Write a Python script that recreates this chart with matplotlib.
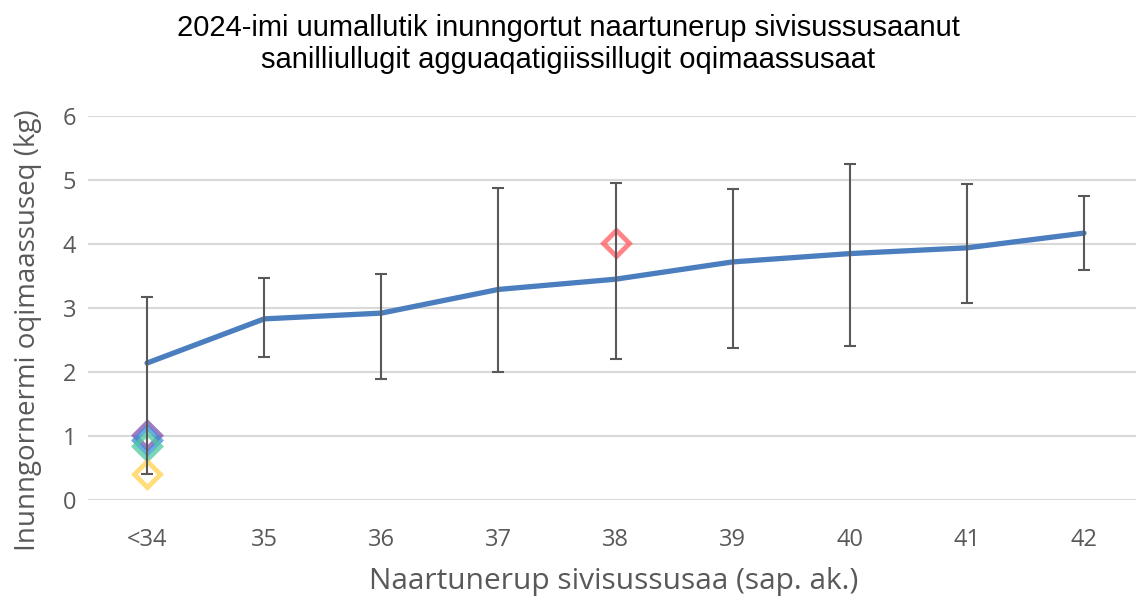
import matplotlib
matplotlib.use("Agg")
import matplotlib.pyplot as plt
import numpy as np

# gestational age categories
categories = ["<34", "35", "36", "37", "38", "39", "40", "41", "42"]
mean_weight = [2.14, 2.83, 2.92, 3.29, 3.45, 3.72, 3.85, 3.94, 4.17]
err_high = [3.17, 3.47, 3.53, 4.87, 4.95, 4.86, 5.25, 4.94, 4.75]
err_low = [0.40, 2.24, 1.89, 2.00, 2.20, 2.37, 2.41, 3.08, 3.59]

# single observations drawn as hollow diamonds
point_cat = ["<34", "<34", "<34", "<34", "38"]
point_val = [1.02, 0.93, 0.85, 0.40, 4.02]
point_col = ["#7E4FB0", "#3A8FD6", "#4CC9A0", "#FFD24D", "#FF5A5F"]

title = "2024-imi uumallutik inunngortut naartunerup sivisussusaanut\nsanilliullugit agguaqatigiissillugit oqimaassusaat"
xlabel = "Naartunerup sivisussusaa (sap. ak.)"
ylabel = "Inunngornermi oqimaassuseq (kg)"

grey = "#595959"
body_font = ["Open Sans", "DejaVu Sans"]
fig = plt.figure(figsize=(11.36, 5.99), dpi=100)
ax = fig.add_axes([88.5 / 1136, 1 - 500 / 599, (1142.5 - 88.5) / 1136, 384 / 599])

x = np.arange(len(categories))
mean_weight = np.array(mean_weight)
yerr = [mean_weight - np.array(err_low), np.array(err_high) - mean_weight]

ax.plot(x, mean_weight, color="#4A7EBE", lw=3.8, solid_capstyle="round", zorder=3)

px = [categories.index(c) for c in point_cat]
for xi, yi, c in zip(px, point_val, point_col):
    ax.plot(xi, yi, marker="D", ms=13, mfc="none", mec=c, mew=3.5, alpha=0.75, zorder=4)

ax.errorbar(x, mean_weight, yerr=yerr, fmt="none", ecolor=grey, elinewidth=1.5,
            capsize=4.3, capthick=1.5, zorder=5)

ax.set_xlim(-0.5, len(categories) - 0.5)
ax.set_ylim(0, 6)
ax.set_yticks(range(0, 7))
ax.set_xticks(x)
ax.set_xticklabels(categories)
ax.grid(axis="y", color="#D9D9D9", lw=1.5)
ax.set_axisbelow(True)
for s in ax.spines.values():
    s.set_visible(False)
ax.tick_params(length=0, colors=grey, labelsize=17)
ax.tick_params(axis="x", pad=20)
ax.tick_params(axis="y", pad=9)
for lab in ax.get_xticklabels() + ax.get_yticklabels():
    lab.set_family(body_font)

fig.text(0.5, 1 - 44 / 599, title, ha="center", va="center", fontsize=21,
         linespacing=1.2, color="black", family=["Liberation Sans Narrow", "Liberation Sans", "DejaVu Sans"])
fig.text(614 / 1136, 1 - 581 / 599, xlabel, ha="center", va="center", fontsize=21.5,
         color=grey, family=body_font)
fig.text(28 / 1136, 1 - 330 / 599, ylabel, ha="center", va="center", rotation=90,
         fontsize=20, color=grey, family=body_font)

fig.savefig("out.png", dpi=100)
